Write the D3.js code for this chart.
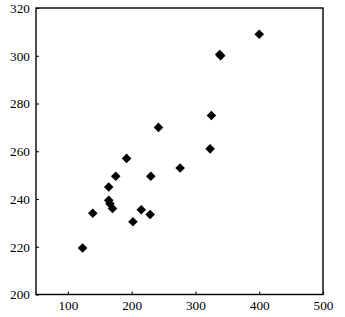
<!DOCTYPE html>
<html>
<head>
<meta charset="utf-8">
<script src="https://cdn.jsdelivr.net/npm/d3@7"></script>
<style>
  body { margin: 0; background: #fff; }
  .axis text { font-family: "Liberation Serif", "DejaVu Serif", serif; font-size: 13.3px; fill: #000; }
  .axis path, .axis line { stroke: #000; }
</style>
</head>
<body>
<div class="canvas"></div>
<script>
// values
const xs = [400, 338, 339.5, 325, 242, 323, 192, 276, 175, 230, 164, 164, 166, 170, 139, 202, 215, 229, 123];
const ys = [309, 300.5, 300, 275, 270, 261, 257, 253, 249.5, 249.5, 245, 239.5, 238, 236, 234, 230.5, 235.5, 233.5, 219.5];
const xTicks = [100, 200, 300, 400, 500];
const yTicks = [200, 220, 240, 260, 280, 300, 320];

const margin = {top: 8, right: 22, bottom: 22.5, left: 36},
    width = 345 - margin.left - margin.right,
    height = 317 - margin.top - margin.bottom;

const svg = d3.select('.canvas').append('svg')
    .attr('width', 345)
    .attr('height', 317);

const graph = svg.append('g')
    .attr('transform', `translate(${margin.left}, ${margin.top})`);

const x = d3.scaleLinear().domain([50, 500]).range([0, width]);
const y = d3.scaleLinear().domain([200, 320]).range([height, 0]);

// axes with small ticks pointing inward
const xAxis = d3.axisBottom(x).tickValues(xTicks).tickSizeInner(-3).tickSizeOuter(0).tickPadding(6);
const yAxis = d3.axisLeft(y).tickValues(yTicks).tickSizeInner(-3).tickSizeOuter(0).tickPadding(6);

graph.append('g')
    .attr('class', 'axis')
    .attr('transform', `translate(0, ${height})`)
    .call(xAxis)
    .call(g => g.select('.domain').remove());

graph.append('g')
    .attr('class', 'axis')
    .call(yAxis)
    .call(g => g.select('.domain').remove());

// frame round the plot
graph.append('rect')
    .attr('width', width)
    .attr('height', height)
    .attr('fill', 'none')
    .attr('stroke', '#000')
    .attr('stroke-width', 1.4);

// diamond markers
const diamond = d3.symbol().type(d3.symbolSquare).size(46);

graph.selectAll('path.pt')
    .data(xs.map((d, i) => [d, ys[i]]))
    .enter()
    .append('path')
    .attr('class', 'pt')
    .attr('d', diamond)
    .attr('transform', d => `translate(${x(d[0])}, ${y(d[1])}) rotate(45)`)
    .attr('fill', '#000');
</script>
</body>
</html>
